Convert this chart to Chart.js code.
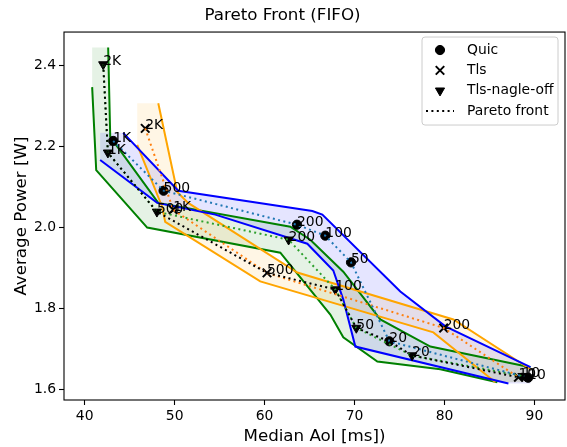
<!DOCTYPE html>
<html>
<head>
<meta charset="utf-8">
<script src="https://cdn.jsdelivr.net/npm/chart.js@4/dist/chart.umd.min.js"></script>
<style>
  html, body { margin: 0; padding: 0; background: #fff; }
</style>
</head>
<body>
<canvas id="pareto" width="567" height="447"></canvas>
<script>
// Pontos de cada protocolo: mediana AoI (ms) e potência média (W)
const quicLabels = ["1K", "500", "200", "100", "50", "20", "10"];
const quicAoI = [43.17, 48.77, 63.60, 66.75, 69.61, 73.87, 89.30];
const quicPower = [2.213, 2.090, 2.006, 1.979, 1.913, 1.718, 1.628];

const tlsLabels = ["2K", "1K", "500", "200", "10"];
const tlsAoI = [46.73, 49.84, 60.27, 79.91, 88.22];
const tlsPower = [2.244, 2.043, 1.887, 1.751, 1.629];

const nagleLabels = ["2K", "1K", "500", "200", "100", "50", "20", "10"];
const nagleAoI = [42.06, 42.58, 48.03, 62.67, 67.86, 70.20, 76.40, 88.67];
const naglePower = [2.402, 2.184, 2.038, 1.969, 1.846, 1.751, 1.683, 1.632];

// Fronteira de Pareto global
const paretoAoI = [42.06, 42.58, 48.03, 60.27, 67.86, 70.20, 73.87, 76.40, 88.22, 89.30];
const paretoPower = [2.402, 2.184, 2.038, 1.887, 1.846, 1.751, 1.718, 1.683, 1.629, 1.628];

// Envelopes (limite superior / inferior) de cada protocolo
const quicUpperAoI = [44.28, 50.40, 65.31, 66.42, 75.09, 80.10, 89.56];
const quicUpperPower = [2.233, 2.090, 2.040, 2.031, 1.841, 1.755, 1.654];
const quicLowerAoI = [41.72, 48.06, 54.52, 64.75, 67.64, 68.75, 70.09, 87.11];
const quicLowerPower = [2.166, 2.060, 2.031, 1.959, 1.893, 1.821, 1.705, 1.614];

const tlsUpperAoI = [48.18, 50.29, 51.50, 63.64, 80.99, 89.56];
const tlsUpperPower = [2.306, 2.087, 2.060, 1.888, 1.772, 1.649];
const tlsLowerAoI = [45.84, 48.62, 48.95, 59.52, 78.76, 85.66];
const tlsLowerPower = [2.203, 2.050, 2.013, 1.866, 1.740, 1.617];

const nagleUpperAoI = [42.61, 42.84, 48.18, 62.86, 65.08, 68.75, 72.87, 78.43, 89.56];
const nagleUpperPower = [2.444, 2.223, 2.060, 2.001, 1.969, 1.890, 1.772, 1.705, 1.654];
const nagleLowerAoI = [40.83, 41.28, 46.95, 61.75, 67.31, 68.75, 72.54, 79.54, 85.88];
const nagleLowerPower = [2.346, 2.141, 1.999, 1.937, 1.784, 1.728, 1.668, 1.649, 1.617];

const xTicks = [40, 50, 60, 70, 80, 90];
const yTicks = [1.6, 1.8, 2.0, 2.2, 2.4];

Chart.defaults.font.family = "'DejaVu Sans', sans-serif";
Chart.defaults.color = "#000";

// junta x e y em pontos
function toPoints(xs, ys) {
    return xs.map((x, i) => ({ x: x, y: ys[i] }));
}

// polígono fechado: superior -> canto -> inferior (ao contrário) -> canto
function envelopeShape(upX, upY, loX, loY) {
    const pts = [{ x: loX[0], y: upY[0] }];
    upX.forEach((x, i) => pts.push({ x: x, y: upY[i] }));
    pts.push({ x: upX[upX.length - 1], y: loY[loY.length - 1] });
    for (let i = loX.length - 1; i >= 0; i--) pts.push({ x: loX[i], y: loY[i] });
    return pts;
}

function envelopeDatasets(upX, upY, loX, loY, color, fillColor) {
    const lineBase = {
        showLine: true, fill: false, borderColor: color, borderWidth: 2,
        pointRadius: 0, tension: 0, order: 40
    };
    return [
        {
            data: envelopeShape(upX, upY, loX, loY), showLine: true, fill: "shape",
            backgroundColor: fillColor, borderWidth: 0, borderColor: "rgba(0,0,0,0)",
            pointRadius: 0, tension: 0, order: 50
        },
        Object.assign({ data: toPoints(upX, upY) }, lineBase),
        Object.assign({ data: toPoints(loX, loY) }, lineBase)
    ];
}

function dottedDataset(xs, ys, color, order) {
    return {
        data: toPoints(xs, ys), showLine: true, fill: false, borderColor: color,
        borderWidth: 2, borderDash: [2, 3.4], pointRadius: 0, tension: 0, order: order
    };
}

function markerDataset(xs, ys, labels, style, radius, rotation) {
    return {
        data: toPoints(xs, ys), showLine: false, pointStyle: style,
        pointRadius: radius, pointRotation: rotation, pointBackgroundColor: "#000",
        pointBorderColor: "#000", pointBorderWidth: style === "crossRot" ? 2 : 1,
        pointLabels: labels, order: 25
    };
}

const datasets = [
    ...envelopeDatasets(quicUpperAoI, quicUpperPower, quicLowerAoI, quicLowerPower, "#0000ff", "rgba(0,0,255,0.1)"),
    ...envelopeDatasets(tlsUpperAoI, tlsUpperPower, tlsLowerAoI, tlsLowerPower, "#ffa500", "rgba(255,165,0,0.1)"),
    ...envelopeDatasets(nagleUpperAoI, nagleUpperPower, nagleLowerAoI, nagleLowerPower, "#008000", "rgba(0,128,0,0.1)"),
    markerDataset(quicAoI, quicPower, quicLabels, "circle", 4.6, 0),
    markerDataset(tlsAoI, tlsPower, tlsLabels, "crossRot", 6, 0),
    markerDataset(nagleAoI, naglePower, nagleLabels, "triangle", 5.3, 180),
    dottedDataset(quicAoI, quicPower, "#1f77b4", 20),
    dottedDataset(tlsAoI, tlsPower, "#ff7f0e", 20),
    dottedDataset(nagleAoI, naglePower, "#2ca02c", 20),
    dottedDataset(paretoAoI, paretoPower, "#000", 10)
];

// rótulos ao lado de cada marcador + moldura
const pointLabelPlugin = {
    id: "pointLabels",
    afterDatasetsDraw(chart) {
        const ctx = chart.ctx;
        ctx.save();
        ctx.font = "13.9px 'DejaVu Sans'";
        ctx.fillStyle = "#000";
        ctx.textAlign = "left";
        ctx.textBaseline = "alphabetic";
        chart.data.datasets.forEach((ds, i) => {
            if (!ds.pointLabels) return;
            chart.getDatasetMeta(i).data.forEach((pt, j) => {
                ctx.fillText(ds.pointLabels[j], pt.x, pt.y + 1);
            });
        });
        const a = chart.chartArea;
        ctx.strokeStyle = "#000";
        ctx.lineWidth = 1.1;
        ctx.strokeRect(a.left, a.top, a.right - a.left, a.bottom - a.top);
        ctx.restore();
    }
};

// legenda no estilo matplotlib, dentro do gráfico
const boxLegendPlugin = {
    id: "boxLegend",
    afterDraw(chart) {
        const ctx = chart.ctx;
        const entries = [
            { text: "Quic", style: "circle", radius: 4.6, rotation: 0 },
            { text: "Tls", style: "crossRot", radius: 6, rotation: 0 },
            { text: "Tls-nagle-off", style: "triangle", radius: 5.3, rotation: 180 },
            { text: "Pareto front", line: true }
        ];
        const left = chart.chartArea.right - 143, top = chart.chartArea.top + 5;
        const w = 136, h = 88;
        ctx.save();
        ctx.beginPath();
        ctx.roundRect(left, top, w, h, 3);
        ctx.fillStyle = "rgba(255,255,255,0.8)";
        ctx.fill();
        ctx.strokeStyle = "#cccccc";
        ctx.lineWidth = 1;
        ctx.stroke();
        ctx.font = "13.9px 'DejaVu Sans'";
        ctx.textBaseline = "middle";
        entries.forEach((e, i) => {
            const y = top + 13 + i * 20.3;
            if (e.line) {
                ctx.beginPath();
                ctx.setLineDash([2, 3.4]);
                ctx.lineWidth = 2;
                ctx.strokeStyle = "#000";
                ctx.moveTo(left + 4, y);
                ctx.lineTo(left + 32, y);
                ctx.stroke();
                ctx.setLineDash([]);
            } else {
                ctx.fillStyle = "#000";
                ctx.strokeStyle = "#000";
                ctx.lineWidth = e.style === "crossRot" ? 2 : 1;
                Chart.helpers.drawPoint(ctx, {
                    pointStyle: e.style, radius: e.radius, rotation: e.rotation,
                    borderWidth: ctx.lineWidth
                }, left + 18, y);
            }
            ctx.fillStyle = "#000";
            ctx.fillText(e.text, left + 45, y);
        });
        ctx.restore();
    }
};

new Chart(document.getElementById("pareto"), {
    type: "line",
    data: { datasets: datasets },
    options: {
        responsive: false,
        animation: false,
        devicePixelRatio: 1,
        layout: { autoPadding: false, padding: { left: 0, right: 2, top: 0, bottom: 0 } },
        plugins: {
            legend: { display: false },
            tooltip: { enabled: false },
            title: {
                display: true, text: "Pareto Front (FIFO)", color: "#000",
                font: { size: 16.7, weight: "normal" }, padding: { top: 6, bottom: 6 }
            }
        },
        scales: {
            x: {
                type: "linear", min: 37.7, max: 93.4,
                afterBuildTicks: s => { s.ticks = xTicks.map(v => ({ value: v })); },
                afterFit: s => { s.height = 47; s.paddingLeft = 0; s.paddingRight = 0; },
                ticks: { font: { size: 13.9 }, color: "#000", padding: 3, maxRotation: 0, autoSkip: false },
                grid: { drawOnChartArea: false, tickLength: 5, tickColor: "#000", tickWidth: 1.1 },
                border: { display: false },
                title: { display: true, text: "Median AoI [ms])", font: { size: 16.7 }, padding: { top: 2, bottom: 0 } }
            },
            y: {
                type: "linear", min: 1.573, max: 2.482,
                afterBuildTicks: s => { s.ticks = yTicks.map(v => ({ value: v })); },
                afterFit: s => { s.width = 64; s.paddingTop = 0; s.paddingBottom = 0; },
                ticks: { font: { size: 13.9 }, color: "#000", padding: 3, callback: v => v.toFixed(1) },
                grid: { drawOnChartArea: false, tickLength: 5, tickColor: "#000", tickWidth: 1.1 },
                border: { display: false },
                title: { display: true, text: "Average Power [W]", font: { size: 16.7 }, padding: { top: 12, bottom: 0 } }
            }
        }
    },
    plugins: [pointLabelPlugin, boxLegendPlugin]
});
</script>
</body>
</html>
